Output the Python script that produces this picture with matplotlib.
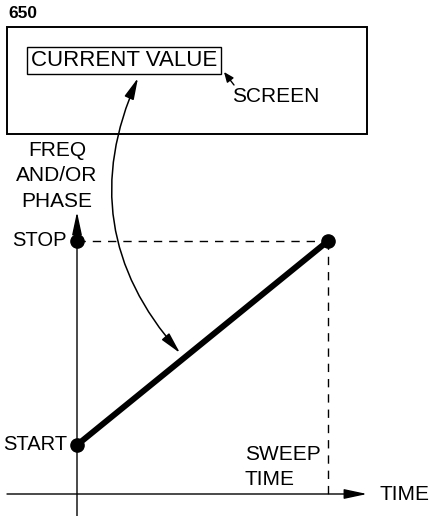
import matplotlib
matplotlib.use("Agg")
import matplotlib.pyplot as plt
from matplotlib.patches import Rectangle, FancyArrowPatch

# sweep: frequency/phase ramps from START to STOP over the sweep time
sweep_time = [0.0, 1.0]
sweep_value = [0.0, 1.0]
level_labels = ["START", "STOP"]

W, H = 431, 516
FONT = "Liberation Sans"
FS = 15

fig = plt.figure(figsize=(W / 100, H / 100), dpi=100)
fig.patch.set_facecolor("white")

# overlay axes in pixel units (y down) for the screen box and annotations
ov = fig.add_axes([0, 0, 1, 1])
ov.set_xlim(0, W)
ov.set_ylim(H, 0)
ov.axis("off")

# graph axes: sweep start at pixel (77, 445), sweep end at (328, 241)
X0, X1, Y0, Y1 = 77, 328, 445, 241
ax = fig.add_axes([0, 0, 1, 1])
ax.set_xlim(-X0 / (X1 - X0), (W - X0) / (X1 - X0))
ax.set_ylim(-(H - Y0) / (Y0 - Y1), Y0 / (Y0 - Y1))
ax.axis("off")
ax.patch.set_alpha(0)


def tx(px):
    return (px - X0) / (X1 - X0)


def ty(py):
    return (Y0 - py) / (Y0 - Y1)


# ── screen box ──
ov.text(8, 14, "650", fontsize=12.5, fontweight="bold", family=FONT, va="center", ha="left")
ov.add_patch(Rectangle((7, 27), 360, 107, fill=False, lw=1.4, ec="black"))
ov.add_patch(Rectangle((27, 47), 194, 27, fill=False, lw=1.0, ec="black"))
ov.text(124, 61, "CURRENT VALUE", fontsize=16, family=FONT, ha="center", va="center")
ov.text(232, 97, "SCREEN", fontsize=FS, family=FONT, ha="left", va="center")
ov.annotate("", xy=(224, 72), xytext=(234, 85),
            arrowprops=dict(arrowstyle="-|>,head_length=0.6,head_width=0.25",
                            lw=1, color="black", shrinkA=0, shrinkB=0))

# curved double arrow linking displayed value with the sweep
ov.add_patch(FancyArrowPatch((180, 353), (138, 78),
                             connectionstyle="arc3,rad=-0.32",
                             arrowstyle="<|-|>,head_length=1.3,head_width=0.3",
                             mutation_scale=10, lw=1.1, color="black",
                             shrinkA=0, shrinkB=0))

# ── axes ──
x_axis_y = ty(494)
ax.annotate("", xy=(tx(367), x_axis_y), xytext=(tx(7), x_axis_y),
            arrowprops=dict(arrowstyle="-|>,head_length=1.4,head_width=0.3",
                            mutation_scale=10, lw=1, color="black",
                            shrinkA=0, shrinkB=0))
ax.annotate("", xy=(0, ty(212)), xytext=(0, ty(H)),
            arrowprops=dict(arrowstyle="-|>,head_length=1.4,head_width=0.3",
                            mutation_scale=10, lw=1, color="black",
                            shrinkA=0, shrinkB=0))
ax.text(tx(380), x_axis_y, "TIME", fontsize=FS, family=FONT, ha="left", va="center")
ax.text(tx(57), ty(176), "FREQ\nAND/OR\nPHASE", fontsize=FS, family=FONT,
        ha="center", va="center", linespacing=1.45)

# ── sweep ──
ax.plot([sweep_time[0], sweep_time[1]], [sweep_value[1], sweep_value[1]],
        color="black", lw=1, dashes=(6, 5))
ax.plot([sweep_time[1], sweep_time[1]], [sweep_value[1], x_axis_y],
        color="black", lw=1, dashes=(6, 5))
ax.plot(sweep_time, sweep_value, color="black", lw=4.3, solid_capstyle="butt")
ax.plot([0, 0, sweep_time[1]], [sweep_value[0], sweep_value[1], sweep_value[1]],
        "o", color="black", ms=9.5)

for val, lab in zip(sweep_value, level_labels):
    ax.text(tx(67), val, lab, fontsize=14.5, family=FONT, ha="right", va="center")

ax.text(tx(245), ty(467), "SWEEP\nTIME", fontsize=FS, family=FONT,
        ha="left", va="center", linespacing=1.35)

fig.savefig("out.png", dpi=100, facecolor="white")
